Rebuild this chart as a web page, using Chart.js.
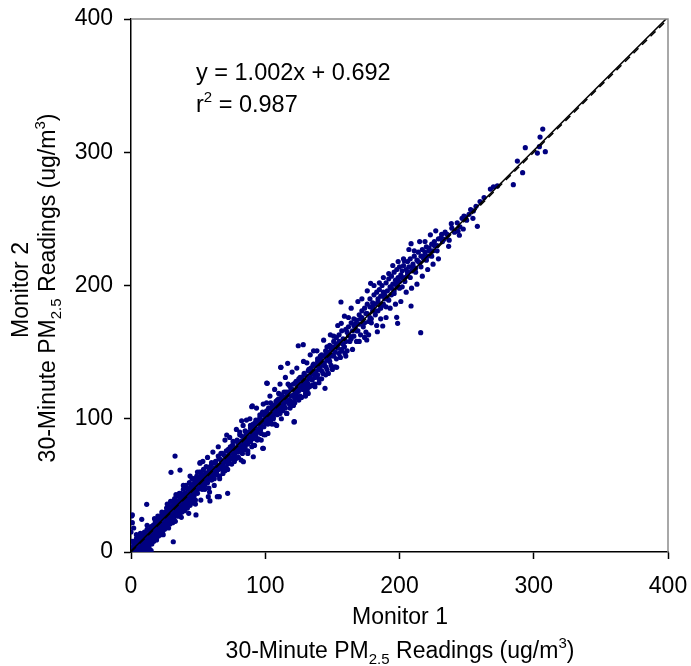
<!DOCTYPE html>
<html>
<head>
<meta charset="utf-8">
<script src="https://cdn.jsdelivr.net/npm/chart.js@4.4.1/dist/chart.umd.min.js"></script>
<style>
  html, body { margin: 0; padding: 0; background: #fff; }
  #wrap { width: 691px; height: 666px; }
</style>
</head>
<body>
<div id="wrap"><canvas id="c"></canvas></div>
<script>
// Monitor 1 vs Monitor 2, 30-minute PM2.5 readings (ug/m3)

const FONT = '"Liberation Sans", Arial, sans-serif';
const NAVY = '#000080';
const FRAME_GRAY = '#8c8c8c';

const xTicks = [0, 100, 200, 300, 400];
const yTicks = [0, 100, 200, 300, 400];

// regression y = 1.002x + 0.692, r2 = 0.987
const fitSlope = 1.002;
const fitIntercept = 0.692;

// [monitor1, monitor2]
const band0to25 = [
  [0.5,1],[1,3],[1.5,0.5],[2,5],[2,1],[2.5,8],[3,2],[3,6],[3.5,0],[4,4],[4,10],[4.5,2],[5,7],[5,3],
  [5.5,12],[6,1],[6,5],[6.5,9],[7,3],[7,14],[7.5,7],[8,2],[8,10],[8.5,5],[9,12],[9,0],[9.5,8],[10,4],
  [10,15],[10.5,11],[11,6],[11,1],[11.5,13],[12,9],[12,17],[12.5,4],[13,11],[13,7],[13.5,16],[14,2],
  [14,13],[14.5,9],[15,19],[15,12],[15.5,6],[16,15],[16,10],[16.5,20],[17,13],[17,8],[17.5,17],[18,22],
  [18,11],[18.5,15],[19,19],[19,9],[19.5,24],[20,14],[20,18],[20.5,12],[21,21],[21,26],[21.5,16],[22,19],
  [22,13],[22.5,23],[23,18],[23,28],[23.5,15],[24,22],[24,26],[24.5,20],[25,17],[25,24],
  [0.5,27],[1,22],[0,15],[2,18],[14,0],[15,1],[12,0]
];

const band25to50 = [
  [25.5,30],[26,21],[26,27],[26.5,33],[27,25],[27,19],[27.5,29],[28,23],[28,35],[28.5,27],[29,31],[29,21],
  [29.5,26],[30,33],[30,28],[30.5,38],[31,24],[31,30],[31.5,35],[32,29],[32,26],[32.5,40],[33,32],[33,23],
  [33.5,36],[34,30],[34,38],[34.5,33],[35,27],[35,42],[35.5,35],[36,31],[36,39],[36.5,29],[37,36],[37,44],
  [37.5,33],[38,39],[38,30],[38.5,42],[39,36],[39,47],[39.5,34],[40,40],[40,31],[40.5,44],[41,38],[41,50],
  [41.5,36],[42,43],[42,33],[42.5,47],[43,41],[43,38],[43.5,52],[44,45],[44,35],[44.5,42],[45,48],[45,40],
  [45.5,55],[46,44],[46,37],[46.5,50],[47,47],[47,42],[47.5,53],[48,45],[48,39],[48.5,50],[49,48],[49,57],
  [49.5,44],[50,52],[50,47]
];

const spread0to50 = [
  [1,8],[2.5,0],[4,13],[5.5,1],[7,12],[8,0],[9.5,13],[11,3],[12,20],[13.5,5],[15,18],[16,9],[17.5,25],[19,10],
  [20,27],[21.5,14],[23,30],[24,13],[25.5,19],[27,36],[28,18],[29.5,38],[31,22],[32,24],[33.5,43],[35,27],
  [36,44],[37.5,26],[39,50],[40,32],[41.5,48],[43,29],[44,57],[45.5,37],[47,55],[48,36],[49.5,60],
  [3,7],[6,3],[8.5,10],[10,6],[14,16],[17,15],[18,12],[20.5,17],[22,24],[24.5,28],[26,23],[27.5,30],[29,25],
  [30.5,33],[32.5,30],[34,37],[35.5,33],[37,41],[38.5,36],[40.5,44],[42,39],[43.5,47],[45,42],[46.5,51],
  [48.5,45],[50,55],[11.5,9],[15.5,13],[19.5,23],[23.5,20],[28.5,32],[33,28],[36.5,39],[41,37],[44.5,49],
  [47.5,44]
];

const band50to100 = [
  [51,49],[51,56],[52,51],[52,60],[53,47],[53,55],[54,53],[54,62],[55,50],[55,57],[56,55],[56,64],[57,52],
  [57,59],[58,56],[58,48],[59,62],[59,57],[60,54],[60,66],[61,60],[61,58],[62,63],[62,55],[63,68],[63,60],
  [64,58],[64,65],[65,62],[65,72],[66,64],[66,57],[67,69],[67,66],[68,62],[68,74],[69,67],[69,64],[70,72],
  [70,61],[71,69],[71,76],[72,66],[72,71],[73,74],[73,68],[74,79],[74,71],[75,70],[75,77],[76,74],[76,83],
  [77,72],[77,78],[78,76],[78,70],[79,84],[79,78],[80,75],[80,81],[81,79],[81,88],[82,76],[82,83],[83,80],
  [83,74],[84,86],[84,82],[85,79],[85,91],[86,84],[86,88],[87,81],[87,76],[88,90],[88,86],[89,83],[89,95],
  [90,88],[90,92],[91,85],[91,80],[92,94],[92,90],[93,87],[93,99],[94,92],[94,84],[95,96],[95,90],[96,101],
  [96,93],[97,89],[97,97],[98,99],[98,105],[99,94],[99,88],[100,102],[100,97]
];

const spread50to100 = [
  [51,60],[52,39],[53.5,68],[55,47],[56,52],[57,71],[58.5,45],[60,67],[61,75],[62,50],[63.5,60],[65,79],
  [66,55],[67,74],[68.5,59],[70,84],[71,63],[72,62],[73.5,86],[75,66],[76,80],[77,68],[78.5,92],[80,71],
  [81,90],[82,69],[83.5,95],[85,77],[86,99],[87,74],[88.5,100],[90,79],[91,96],[92,80],[93.5,108],[95,85],
  [96,103],[97,84],[98.5,111],[100,88],
  [50.5,53],[52.5,58],[54,50],[55.5,59],[57.5,55],[59,64],[60.5,58],[62.5,67],[64,61],[65.5,70],[67.5,64],
  [69,73],[70.5,68],[72.5,77],[74,70],[75.5,80],[77.5,74],[79,83],[80.5,77],[82.5,87],[84,80],[85.5,90],
  [87.5,84],[89,93],[90.5,87],[92.5,97],[94,90],[95.5,99],[97.5,94],[99,103],[58,61],[66,70],[74.5,78],
  [83,79],[91.5,94],[96.5,92]
];

const band100to150 = [
  [101,106],[101,99],[102,96],[102,104],[103,108],[103,101],[104,98],[104,112],[105,103],[105,107],[106,100],
  [106,110],[107,105],[107,96],[108,113],[108,106],[109,103],[109,110],[110,115],[110,107],[111,104],[111,112],
  [112,118],[112,109],[113,106],[113,114],[114,111],[114,120],[115,108],[115,116],[116,113],[116,104],[117,120],
  [117,114],[118,111],[118,125],[119,117],[119,113],[120,122],[120,110],[121,118],[121,126],[122,115],[122,121],
  [123,128],[123,119],[124,116],[124,124],[125,121],[125,130],[126,124],[126,117],[127,131],[127,126],[128,122],
  [128,129],[129,127],[129,134],[130,125],[130,119],[131,132],[131,128],[132,136],[132,126],[133,130],[133,124],
  [134,138],[134,133],[135,129],[135,136],[136,134],[136,141],[137,131],[137,126],[138,140],[138,136],[139,133],
  [139,145],[140,138],[140,130],[141,143],[141,139],[142,136],[142,148],[143,141],[143,134],[144,147],[144,142],
  [145,139],[145,151],[146,144],[146,137],[147,150],[147,146],[148,143],[148,155],[149,147],[149,140],[150,152],
  [150,148]
];

const spread100to150 = [
  [101,112],[102,89],[103.5,117],[105,96],[106,101],[107,122],[108.5,95],[110,119],[111,126],[112,100],
  [113.5,111],[115,131],[116,104],[117,126],[118.5,108],[120,135],[121,110],[122,112],[123.5,138],[125,114],
  [126,131],[127,116],[128.5,143],[130,117],[131,142],[132,119],[133.5,148],[135,125],[136,151],[137,124],
  [138.5,151],[140,127],[141,147],[142,130],[143.5,159],[145,133],[146,154],[147,134],[148.5,163],[150,137],
  [100.5,104],[102.5,108],[104,100],[105.5,110],[107.5,104],[109,114],[110.5,108],[112.5,117],[114,110],
  [115.5,120],[117.5,114],[119,123],[120.5,117],[122.5,127],[124,120],[125.5,130],[127.5,124],[129,133],
  [130.5,127],[132.5,137],[134,130],[135.5,140],[137.5,134],[139,143],[140.5,137],[142.5,147],[144,140],
  [145.5,150],[147.5,144],[149,153],[108,111],[116.5,118],[124.5,127],[133,131],[141.5,144],[146.5,148]
];

const band150to230 = [
  [151,158],[151,147],[152,150],[153,161],[153,145],[154,153],[155,149],[155,163],[156,157],[157,152],[157,166],
  [158,160],[159,154],[160,167],[160,158],[161,151],[162,169],[162,163],[163,158],[164,172],[164,160],[165,166],
  [166,175],[166,162],[167,169],[168,158],[168,174],[169,166],[170,178],[170,171],[171,163],[172,176],[172,181],
  [173,169],[174,183],[174,172],[175,165],[176,179],[176,186],[177,173],[178,184],[178,190],[179,175],[180,187],
  [180,181],[181,193],[182,178],[182,186],[183,195],[184,181],[184,190],[185,197],[186,183],[186,192],[187,200],
  [188,186],[188,195],[189,190],[190,202],[190,184],[191,196],[192,205],[192,189],[193,199],[194,207],[194,193],
  [195,201],[196,210],[196,196],[197,204],[198,212],[198,199],[199,206],[200,203],[200,214],[201,208],[202,199],
  [202,211],[203,215],[204,206],[205,212],[206,218],[206,208],[207,214],[208,220],[209,211],[210,216],[211,222],
  [212,213],[213,219],[214,225],[215,217],[216,222],[217,227],[218,220],[219,225],[220,229],[221,222],[222,228],
  [224,231],[225,226],[226,233],[228,230],[229,235]
];

const spread150to230 = [
  [151,162],[152,139],[154,170],[156,146],[157,151],[159,177],[160,147],[162,176],[164,183],[165,152],[167,171],
  [169,188],[170,158],[172,190],[174,161],[176,196],[177,163],[179,172],[181,200],[183,170],[185,202],[186,175],
  [188,206],[190,176],[192,209],[193,183],[195,215],[197,186],[199,218],[201,188],[203,220],[205,195],[207,227],
  [209,198],[211,226],[213,201],[215,233],[217,207],[219,233],[221,212],[223,238],[225,216],[227,241],[229,220],
  [150.5,154],[153,156],[155,158],[158,156],[161,165],[163,162],[166,170],[168,166],[171,175],[173,172],
  [175,179],[178,176],[180,184],[182,181],[184,188],[187,185],[189,193],[191,190],[194,198],[196,194],
  [198,202],[200,198],[202,206],[204,203],[206,210],[208,206],[210,214],[212,210],[214,218],[216,214],
  [218,222],[220,219],[222,226],[224,222],[226,230],[228,226]
];

const band230up = [
  [231,236],[232,233],[234,240],[236,238],[237,234],[239,243],[241,240],[243,247],[245,244],[248,252],
  [250,249],[253,257],[255,256],[260,263],[263,266],[270,274]
];

const outliers = [
  [306.7,317.4],[304.7,311.4],[293.7,303.4],[304.2,304.2],[302.7,299.4],[308.6,300.4],[287.8,293.4],
  [291.7,284.7],[284.8,275.7],[272.9,274.7],[267.7,272.4],[257,259.4],[258,244.4],[254.7,250.4],
  [251.8,253.4],[248.8,251.6],[246.6,250.4],[238.6,246.4],[247.5,242.4],[244.6,237.7],[243.6,240.7],
  [231.4,238.4],[235.2,238.4],[233.1,234.7],[236.6,229.4],[208.6,231.4],[215.8,164.6],[197.9,176.1],
  [198.6,171.6],[208.6,184.6],[156.4,187.6],[178.5,201.6],[124.6,154.8],[128.3,155.6],[144.5,122.8],
  [101.1,126.8],[203.6,218.4],[187.5,169.6],[183.5,165.3],[156.6,171.6],[159.4,149.1],[111.7,138.6],
  [153.2,138.6],[175.6,159.1],[116.7,141.6],[111.5,138.6],[101.5,126.6],[90.4,109.6],[82.4,98.5],
  [121.7,97.8],[131.3,122.1],[98.1,77.8],[91.1,71.5],[51.4,66.6],[121.4,97.6],[98.6,77.8],[83.7,67.8],
  [71.3,87.8],[89.9,109],[108.5,107.8],[32.8,72],[29.8,59.8],[36.5,61.5],[51.4,67],[11.7,35.8],[8,24.5],
  [31.5,7.7],[72,44],[64.3,41.5],[65.8,41.5],[57.6,41.5],[58.8,38.3],[48.4,27.8],[1,27.8],[14,0]
];

const readings = [].concat(
  band0to25, band25to50, spread0to50, band50to100, spread50to100, band100to150, spread100to150,
  band150to230, spread150to230, band230up, outliers
).map(([x, y]) => ({ x, y }));

// text pieces: [text, shift] shift 0 = normal, -1 = subscript, 1 = superscript
const xTitle1 = [['Monitor 1', 0]];
const yTitle1 = [['Monitor 2', 0]];
const unitTitle = [['30-Minute PM', 0], ['2.5', -1], [' Readings (ug/m', 0], ['3', 1], [')', 0]];
const eqLine = [['y = 1.002x + 0.692', 0]];
const r2Line = [['r', 0], ['2', 1], [' = 0.987', 0]];

const TXT = 23;
const EQ = 23.5;

function drawRich(ctx, parts, x, y, align, size) {
  const small = Math.round(size * 0.64);
  let total = 0;
  const widths = parts.map(([t, s]) => {
    ctx.font = `${s ? small : size}px ${FONT}`;
    const w = ctx.measureText(t).width;
    total += w;
    return w;
  });
  let cx = align === 'center' ? x - total / 2 : x;
  ctx.textAlign = 'left';
  ctx.textBaseline = 'alphabetic';
  parts.forEach(([t, s], i) => {
    ctx.font = `${s ? small : size}px ${FONT}`;
    const dy = s < 0 ? size * 0.26 : s > 0 ? -size * 0.42 : 0;
    ctx.fillText(t, cx, y + dy);
    cx += widths[i];
  });
}

const decor = {
  id: 'decor',
  afterDraw(chart) {
    const { ctx, chartArea: a } = chart;
    ctx.save();
    // gray top and right frame
    ctx.strokeStyle = FRAME_GRAY;
    ctx.lineWidth = 1.5;
    ctx.beginPath();
    ctx.moveTo(a.left, a.top);
    ctx.lineTo(a.right, a.top);
    ctx.lineTo(a.right, a.bottom);
    ctx.stroke();

    ctx.fillStyle = '#000';
    drawRich(ctx, eqLine, 196, 80, 'left', EQ);
    drawRich(ctx, r2Line, 196, 112, 'left', EQ);

    // x titles
    drawRich(ctx, xTitle1, 400, 624, 'center', TXT);
    drawRich(ctx, unitTitle, 400, 658, 'center', TXT);

    // y titles (rotated)
    ctx.save();
    ctx.translate(28, 290);
    ctx.rotate(-Math.PI / 2);
    drawRich(ctx, yTitle1, 0, 0, 'center', TXT);
    ctx.restore();
    ctx.save();
    ctx.translate(55, 288);
    ctx.rotate(-Math.PI / 2);
    drawRich(ctx, unitTitle, 0, 0, 'center', TXT);
    ctx.restore();
    ctx.restore();
  }
};

const axisCommon = {
  type: 'linear',
  min: 0,
  max: 400,
  grid: { display: true, drawOnChartArea: false, drawTicks: true, tickLength: 7, tickColor: '#000', tickWidth: 1.5 },
  border: { display: true, color: '#000', width: 1.5 }
};

new Chart(document.getElementById('c'), {
  type: 'scatter',
  data: {
    datasets: [
      {
        label: 'fit',
        type: 'line',
        data: [{ x: 0, y: fitIntercept }, { x: 400, y: fitSlope * 400 + fitIntercept }],
        borderColor: '#000',
        borderWidth: 1.5,
        pointRadius: 0,
        fill: false
      },
      {
        label: '1:1',
        type: 'line',
        data: [{ x: 0, y: 0 }, { x: 400, y: 400 }],
        borderColor: '#000',
        borderWidth: 1.5,
        borderDash: [7, 5],
        pointRadius: 0,
        fill: false
      },
      {
        label: 'readings',
        data: readings,
        backgroundColor: NAVY,
        borderColor: NAVY,
        borderWidth: 0,
        pointRadius: 2.6,
        pointHoverRadius: 2.6
      }
    ]
  },
  options: {
    responsive: true,
    maintainAspectRatio: false,
    animation: false,
    layout: { padding: { top: 19, right: 23, left: 0, bottom: 0 } },
    plugins: { legend: { display: false }, tooltip: { enabled: false } },
    scales: {
      x: {
        ...axisCommon,
        position: 'bottom',
        afterFit: s => { s.height = 114; s.paddingLeft = 0; s.paddingRight = 0; },
        afterBuildTicks: s => { s.ticks = xTicks.map(v => ({ value: v })); },
        ticks: { color: '#000', font: { family: FONT, size: TXT }, padding: 14, maxRotation: 0 }
      },
      y: {
        ...axisCommon,
        position: 'left',
        afterFit: s => { s.width = 131; s.paddingTop = 0; s.paddingBottom = 0; },
        afterBuildTicks: s => { s.ticks = yTicks.map(v => ({ value: v })); },
        ticks: { color: '#000', font: { family: FONT, size: TXT }, padding: 11 }
      }
    }
  },
  plugins: [decor]
});
</script>
</body>
</html>
